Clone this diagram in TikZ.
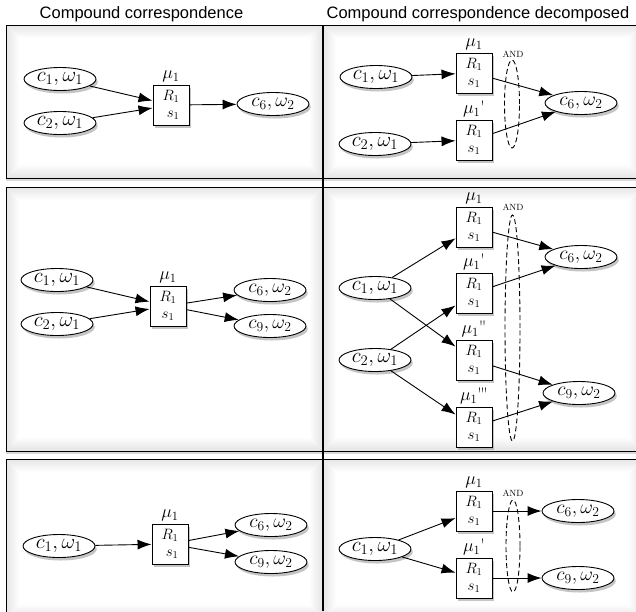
\RequirePackage{fix-cm}
\documentclass[tikz,border=0pt]{standalone}
\usepackage{fontspec}
\newfontfamily\headfont{Liberation Sans}
\usetikzlibrary{shapes.geometric,arrows.meta,shadows}
\newcommand\mypanelglow[4]{%
  \foreach \k in {0,1,...,13}{%
    \pgfmathsetmacro\g{10*(1-\k/13)}%
    \fill[black!\g] ({#1+\k},{#2+\k}) rectangle ({#3-\k},{#4-\k});
  }}
\newcommand\tq{\textquotesingle}
\begin{document}
\begin{tikzpicture}[x=1pt,y=-1pt,
  shad/.style={drop shadow={opacity=0.45, shadow xshift=1.8pt, shadow yshift=-3pt}},
  conc/.style={ellipse, draw, line width=0.9pt, fill=white, minimum width=72pt, minimum height=23pt, inner sep=0pt, font=\fontsize{21}{22}\selectfont, shad},
  concb/.style={conc, font=\fontsize{19.5}{20}\selectfont},
  mapbox/.style={rectangle, draw, line width=0.9pt, fill=white, minimum width=36pt, minimum height=40pt, inner sep=0pt, align=center, font=\fontsize{15}{17}\selectfont, shad},
  mulab/.style={anchor=base, inner sep=0pt, font=\fontsize{18}{20}\selectfont},
  andlab/.style={inner sep=0pt, font=\fontsize{9}{10}\selectfont},
  flow/.style={line width=0.9pt, -{Latex[length=14pt,width=10pt]}},
  andring/.style={ellipse, draw, dash pattern=on 5pt off 3pt, line width=0.9pt, inner sep=0pt},
  panel/.style={draw, line width=1pt, fill=white, drop shadow={opacity=0.3, shadow xshift=0pt, shadow yshift=-3pt}},
  head/.style={anchor=base, inner sep=0pt, font=\headfont\fontsize{16.5}{18}\selectfont}
]
\useasboundingbox (0,0) rectangle (636,611);
% panels
\draw[panel] (6,25) rectangle (642,178);
\draw[panel] (6,187) rectangle (642,451);
\draw[panel] (6,459) rectangle (642,618);
\mypanelglow{6}{25}{323}{178}
\mypanelglow{323}{25}{642}{178}
\mypanelglow{6}{187}{323}{451}
\mypanelglow{323}{187}{642}{451}
\mypanelglow{6}{459}{323}{618}
\mypanelglow{323}{459}{642}{618}
\draw[line width=1pt] (6,25) rectangle (642,178);
\draw[line width=1pt] (6,187) rectangle (642,451);
\draw[line width=1pt] (6,459) rectangle (642,618);
\draw[line width=1.2pt] (323,25) -- (323,611);
% headers
\node[head] (h1) at (141.5,18) {Compound correspondence};
\node[head] (h2) at (478,18) {Compound correspondence decomposed};

% ---------- Row 1 left
\node[conc] (a1) at (60,79) {$c_1,\omega_1$};
\node[conc] (a2) at (60,123) {$c_2,\omega_1$};
\node[mapbox, align=right] (b) at (171,105) {$R_1$\\$s_1$};
\node[mulab] (bl) at ([yshift=6pt]b.north) {$\mu_1$};
\node[concb] (c6a) at (273,104) {$c_6,\omega_2$};
\draw[flow] (a1) -- (b);
\draw[flow] (a2) -- (b);
\draw[flow] (b) -- (c6a);

% ---------- Row 1 right
\node[conc] (d1) at (376,77) {$c_1,\omega_1$};
\node[conc] (d2) at (375,144) {$c_2,\omega_1$};
\node[mapbox] (e1) at (474,73) {$R_1$\\$s_1$};
\node[mapbox] (e2) at (474,140) {$R_1$\\$s_1$};
\node[mulab] (e1l) at ([yshift=6pt]e1.north) {$\mu_1$};
\node[mulab] (e2l) at ([yshift=6pt]e2.north) {$\mu_1$\tq};
\node[concb] (f) at (581,103) {$c_6,\omega_2$};
\draw[flow] (d1) -- (e1);
\draw[flow] (d2) -- (e2);
\draw[flow] (e1) -- (f);
\draw[flow] (e2) -- (f);
\node[andring, minimum width=15pt, minimum height=88pt] (and1) at (512,104) {};
\node[andlab] (and1l) at (513,54) {AND};

% ---------- Row 2 left
\node[conc] (g1) at (57,280) {$c_1,\omega_1$};
\node[conc] (g2) at (57,324) {$c_2,\omega_1$};
\node[mapbox] (h) at (168,306) {$R_1$\\$s_1$};
\node[mulab] (hl) at ([yshift=6pt]h.north) {$\mu_1$};
\node[concb] (i6) at (270,290) {$c_6,\omega_2$};
\node[concb] (i9) at (270,326) {$c_9,\omega_2$};
\draw[flow] (g1) -- (h);
\draw[flow] (g2) -- (h);
\draw[flow] (h) -- (i6);
\draw[flow] (h) -- (i9);

% ---------- Row 2 right
\node[conc] (j1) at (375,288) {$c_1,\omega_1$};
\node[conc] (j2) at (375,360) {$c_2,\omega_1$};
\node[mapbox] (k1) at (474,227) {$R_1$\\$s_1$};
\node[mapbox] (k2) at (474,293) {$R_1$\\$s_1$};
\node[mapbox] (k3) at (474,360) {$R_1$\\$s_1$};
\node[mapbox] (k4) at (474,427) {$R_1$\\$s_1$};
\node[mulab] (k1l) at ([yshift=6pt]k1.north) {$\mu_1$};
\node[mulab] (k2l) at ([yshift=6pt]k2.north) {$\mu_1$\tq};
\node[mulab] (k3l) at ([yshift=6pt]k3.north) {$\mu_1$\tq\kern-1.5pt\tq};
\node[mulab] (k4l) at ([yshift=6pt]k4.north) {$\mu_1$\tq\kern-1.5pt\tq\kern-1.5pt\tq};
\node[concb] (l6) at (581,257) {$c_6,\omega_2$};
\node[concb] (l9) at (579,393) {$c_9,\omega_2$};
\draw[flow] (j1) -- (k1);
\draw[flow] (j1) -- (k3);
\draw[flow] (j2) -- (k2);
\draw[flow] (j2) -- (k4);
\draw[flow] (k1) -- (l6);
\draw[flow] (k2) -- (l6);
\draw[flow] (k3) -- (l9);
\draw[flow] (k4) -- (l9);
\node[andring, minimum width=15pt, minimum height=226pt] (and2) at (512.5,328) {};
\node[andlab] (and2l) at (513,207) {AND};

% ---------- Row 3 left
\node[conc] (m1) at (59,546) {$c_1,\omega_1$};
\node[mapbox, align=right] (n) at (170,544) {$R_1$\\$s_1$};
\node[mulab] (nl) at ([yshift=6pt]n.north) {$\mu_1$};
\node[concb] (o6) at (271,525) {$c_6,\omega_2$};
\node[concb] (o9) at (271,562) {$c_9,\omega_2$};
\draw[flow] (m1) -- (n);
\draw[flow] (n) -- (o6);
\draw[flow] (n) -- (o9);

% ---------- Row 3 right
\node[conc] (p1) at (375,549) {$c_1,\omega_1$};
\node[mapbox] (q1) at (474,511) {$R_1$\\$s_1$};
\node[mapbox] (q2) at (474,578) {$R_1$\\$s_1$};
\node[mulab] (q1l) at ([yshift=6pt]q1.north) {$\mu_1$};
\node[mulab] (q2l) at ([yshift=6pt]q2.north) {$\mu_1$\tq};
\node[concb] (r6) at (578,511) {$c_6,\omega_2$};
\node[concb] (r9) at (578,578) {$c_9,\omega_2$};
\draw[flow] (p1) -- (q1);
\draw[flow] (p1) -- (q2);
\draw[flow] (q1) -- (r6);
\draw[flow] (q2) -- (r9);
\node[andring, minimum width=14pt, minimum height=92pt] (and3) at (513,546) {};
\node[andlab] (and3l) at (513,493) {AND};
\end{tikzpicture}
\end{document}
